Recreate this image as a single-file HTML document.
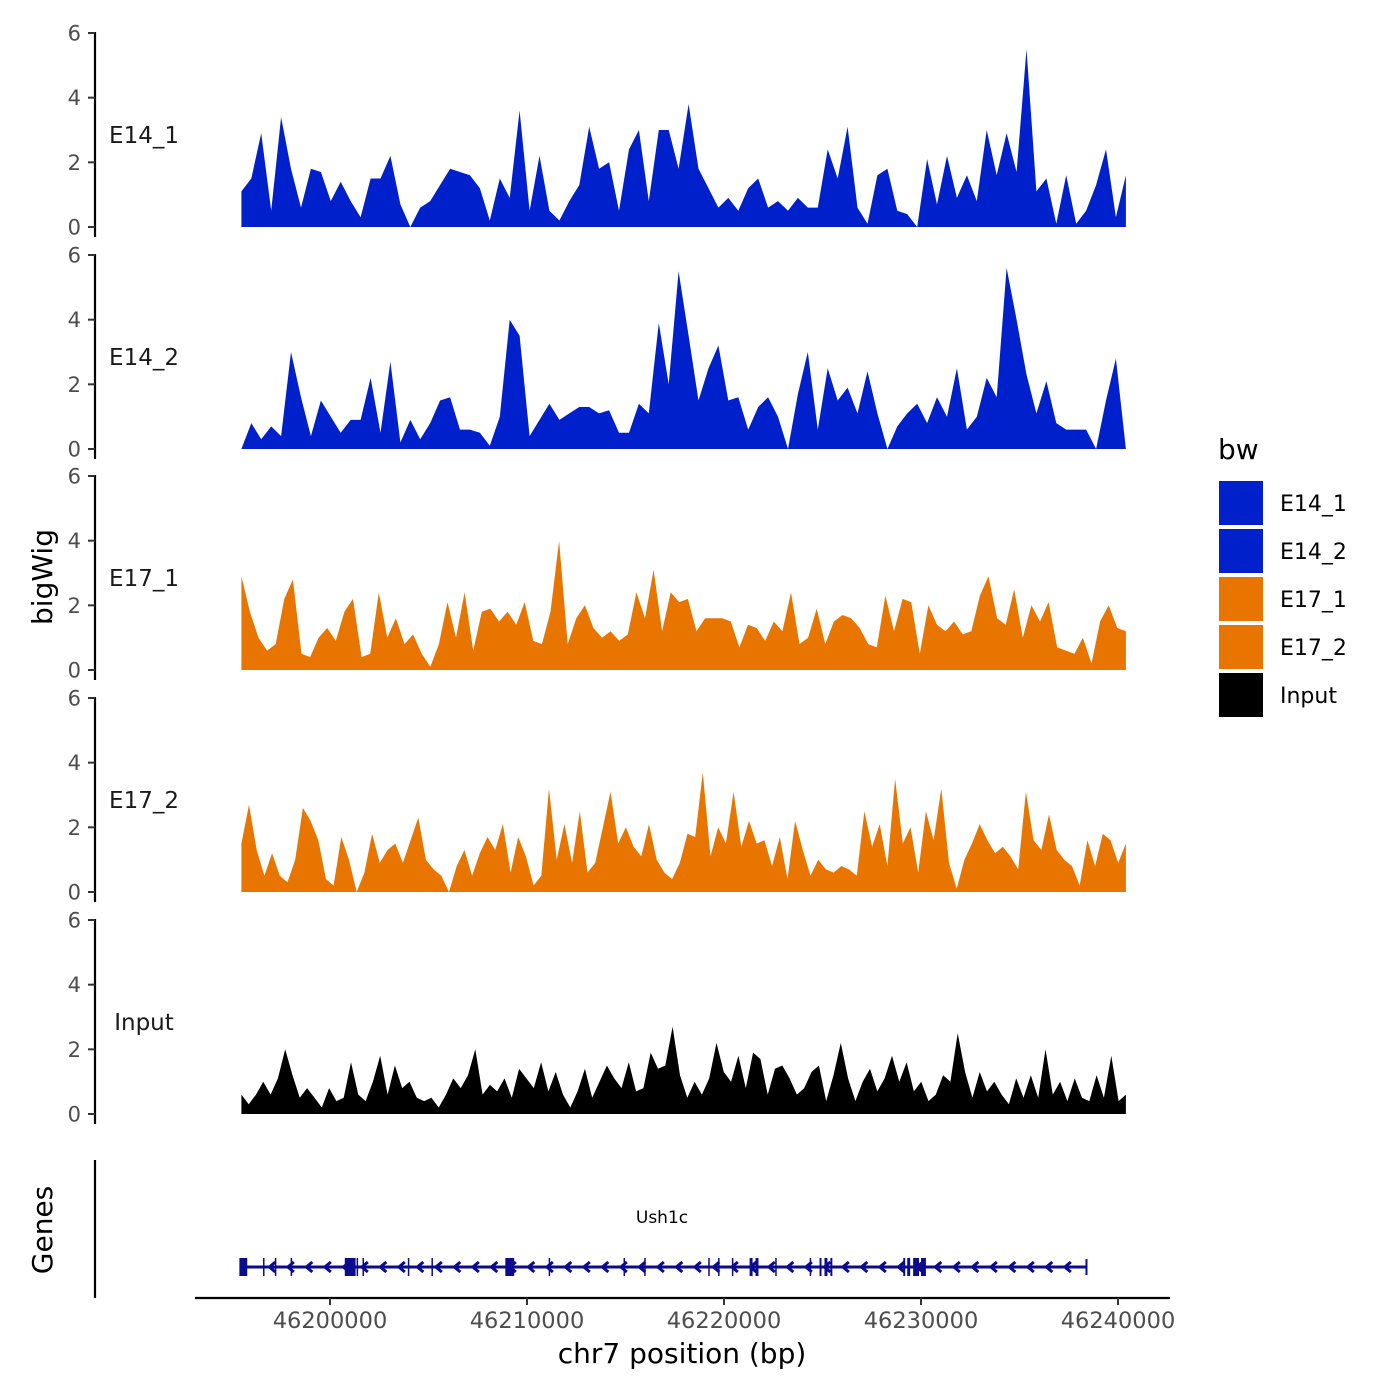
<!DOCTYPE html>
<html><head><meta charset="utf-8"><style>
body{margin:0;background:#fff}
svg{display:block;font-family:"DejaVu Sans","Liberation Sans",sans-serif}
</style></head><body>
<svg id="c" width="1400" height="1400" viewBox="0 0 1400 1400"></svg>
<script>
// ---- data ----
const trackNames = ["E14_1","E14_2","E17_1","E17_2","Input"];
const trackColors = ["#0020CC","#0020CC","#E87500","#E87500","#000000"];
const dataStart = 46195500, dataEnd = 46240400;
const e14_1 = [1.1,1.5,2.9,0.5,3.4,1.8,0.6,1.8,1.7,0.8,1.4,0.8,0.3,1.5,1.5,2.2,0.7,0,0.6,0.8,1.3,1.8,1.7,1.6,1.2,0.2,1.5,0.9,3.6,0.5,2.2,0.5,0.2,0.8,1.3,3.1,1.8,2.0,0.5,2.4,3.0,0.8,3.0,3.0,1.8,3.8,1.8,1.2,0.6,0.9,0.5,1.2,1.5,0.6,0.8,0.5,0.9,0.6,0.6,2.4,1.5,3.1,0.6,0.1,1.6,1.8,0.5,0.4,0,2.1,0.7,2.2,0.9,1.6,0.8,3.0,1.6,2.9,1.7,5.5,1.1,1.5,0.1,1.6,0.1,0.5,1.3,2.4,0.3,1.6];
const e14_2 = [0,0.8,0.3,0.7,0.4,3.0,1.6,0.4,1.5,1.0,0.5,0.9,0.9,2.2,0.5,2.7,0.2,0.9,0.3,0.8,1.5,1.6,0.6,0.6,0.5,0.1,1.0,4.0,3.5,0.4,0.9,1.4,0.9,1.1,1.3,1.3,1.1,1.2,0.5,0.5,1.4,1.1,3.9,2.0,5.5,3.5,1.5,2.5,3.2,1.5,1.6,0.6,1.3,1.6,1.0,0,1.7,3.0,0.6,2.5,1.5,1.9,1.1,2.4,1.1,0,0.7,1.1,1.4,0.8,1.6,1.0,2.5,0.6,1.0,2.2,1.6,5.6,4.0,2.3,1.1,2.1,0.8,0.6,0.6,0.6,0,1.5,2.8,0];
const e17_1 = [2.9,1.8,1.0,0.6,0.8,2.2,2.8,0.5,0.4,1.0,1.3,0.9,1.8,2.2,0.4,0.5,2.4,1.0,1.6,0.8,1.1,0.5,0.1,0.8,2.1,1.0,2.4,0.6,1.8,1.9,1.5,1.8,1.4,2.1,0.9,0.8,1.8,4.0,0.8,1.6,2.0,1.3,1.0,1.2,0.9,1.1,2.4,1.6,3.1,1.2,2.4,2.1,2.2,1.2,1.6,1.6,1.6,1.5,0.7,1.4,1.3,0.9,1.5,1.2,2.4,0.8,1.0,1.9,0.8,1.5,1.7,1.6,1.3,0.8,0.7,2.3,1.2,2.2,2.1,0.5,2.0,1.4,1.2,1.5,1.1,1.2,2.3,2.9,1.6,1.4,2.5,1.0,2.0,1.5,2.1,0.7,0.6,0.5,1.0,0.2,1.5,2.0,1.3,1.2];
const e17_2 = [1.5,2.7,1.3,0.5,1.2,0.5,0.3,1.0,2.6,2.2,1.6,0.4,0.2,1.7,1.0,0,0.6,1.8,0.9,1.3,1.5,0.9,1.6,2.3,1.0,0.7,0.5,0,0.8,1.3,0.5,1.2,1.7,1.3,2.1,0.6,1.7,1.1,0.2,0.5,3.2,1.0,2.1,0.9,2.5,0.6,0.9,2.0,3.1,1.5,2.0,1.4,1.1,2.1,1.0,0.6,0.4,0.9,1.8,1.7,3.7,1.1,2.0,1.5,3.1,1.4,2.2,1.5,1.6,0.8,1.7,0.4,2.2,1.3,0.5,1.0,0.7,0.6,0.8,0.7,0.5,2.5,1.4,2.1,0.8,3.5,1.5,2.0,0.6,2.5,1.6,3.2,0.9,0.1,1.0,1.5,2.1,1.6,1.2,1.4,1.1,0.7,3.1,1.6,1.3,2.4,1.3,1.0,0.8,0.2,1.6,0.8,1.8,1.6,0.9,1.5];
const inputVals = [0.6,0.3,0.6,1.0,0.6,1.1,2.0,1.2,0.5,0.8,0.5,0.2,0.8,0.4,0.5,1.6,0.6,0.4,1.0,1.8,0.6,1.5,0.8,1.0,0.5,0.4,0.5,0.2,0.6,1.1,0.8,1.2,2.0,0.6,0.9,0.7,1.1,0.5,1.4,1.1,0.8,1.6,0.7,1.3,0.6,0.2,0.7,1.4,0.5,1.0,1.5,1.1,0.8,1.6,0.7,0.8,1.9,1.4,1.5,2.7,1.2,0.5,1.0,0.6,1.1,2.2,1.3,1.0,1.8,0.8,1.9,1.7,0.6,1.4,1.5,1.1,0.6,0.8,1.3,1.5,0.4,1.2,2.2,1.1,0.4,1.0,1.4,0.7,1.1,1.8,1.0,1.6,0.7,1.0,0.4,0.6,1.2,1.0,2.5,1.3,0.5,1.3,0.7,1.0,0.6,0.3,1.1,0.5,1.2,0.5,2.0,0.6,1.0,0.4,1.1,0.5,0.4,1.2,0.5,1.8,0.4,0.6];
const trackValues = [e14_1,e14_2,e17_1,e17_2,inputVals];
const yTicks = [0,2,4,6];
const xTicks = [46200000,46210000,46220000,46230000,46240000];
const geneName = "Ush1c";
const geneStart = 46195500, geneEnd = 46238400;
const exonStarts = [46195400,46196600,46197200,46198000,46200750,46201350,46201650,46203950,46205150,46208900,46211100,46214900,46215950,46219200,46219700,46220400,46221300,46221600,46222600,46224350,46224850,46225100,46225400,46229100,46229300,46229600,46230000];
const exonEnds   = [46195800,46196650,46197250,46198080,46201300,46201400,46201700,46204000,46205200,46209350,46211150,46214950,46216000,46219250,46219750,46220450,46221450,46221750,46222650,46224400,46224950,46225250,46225500,46229200,46229450,46229900,46230250];

// ---- scales ----
const X0 = 46200000, PX0 = 330, PXPER = 788/40000;
const xs = bp => PX0 + (bp - X0)*PXPER;
const panelZero = [227,449,670,892,1114];
const ys = (v,i) => panelZero[i] - v*(194/6);

const svg = document.getElementById('c');
const NS = "http://www.w3.org/2000/svg";
function mk(tag, attrs, parent){
  const e = document.createElementNS(NS, tag);
  for (const k in attrs) e.setAttribute(k, attrs[k]);
  (parent||svg).appendChild(e);
  return e;
}

trackValues.forEach((vals,i)=>{
  const g = mk('g',{});
  
  
  const n = vals.length;
  let pts = xs(dataStart).toFixed(1)+','+ys(0,i);
  vals.forEach((v,j)=>{
    const bp = dataStart + j*(dataEnd-dataStart)/(n-1);
    pts += ' '+xs(bp).toFixed(1)+','+ys(v,i).toFixed(1);
  });
  pts += ' '+xs(dataEnd).toFixed(1)+','+ys(0,i);
  const p = mk('polygon',{points:pts,fill:trackColors[i]},g);
  
  
  const ax = mk('line',{x1:95,x2:95,y1:ys(6,i)-1,y2:ys(0,i)+10,stroke:'#000','stroke-width':2.2},g);
  
  
  yTicks.forEach(t=>{
    mk('line',{x1:88,x2:95,y1:ys(t,i),y2:ys(t,i),stroke:'#333','stroke-width':2},g);
    const tx = mk('text',{x:81,y:ys(t,i)+7.5,'text-anchor':'end','font-size':21,fill:'#4d4d4d'},g);
    tx.textContent = t;
    
    
  });
  const lb = mk('text',{x:144,y:ys(0,i)-84,'text-anchor':'middle','font-size':23,fill:'#1a1a1a'},g);
  lb.textContent = trackNames[i];
  
  
});

const yt = mk('text',{x:0,y:0,transform:'translate(52,577) rotate(-90)','text-anchor':'middle','font-size':28,fill:'#000'});
yt.textContent = 'bigWig';



const gg = mk('g',{});


mk('line',{x1:95,x2:95,y1:1160,y2:1298,stroke:'#000','stroke-width':2.2},gg);
const gt = mk('text',{x:0,y:0,transform:'translate(52,1230) rotate(-90)','text-anchor':'middle','font-size':28,fill:'#000'},gg);
gt.textContent = 'Genes';


const GY = 1267, GC = '#0B0B8E';
mk('line',{x1:xs(geneStart),x2:xs(geneEnd),y1:GY,y2:GY,stroke:GC,'stroke-width':3},gg);
mk('line',{x1:xs(geneEnd),x2:xs(geneEnd),y1:GY-8,y2:GY+8,stroke:GC,'stroke-width':2},gg);
for (let x = xs(geneStart)+30; x < xs(geneEnd)-5; x += 18.5){
  mk('polyline',{points:(x+4)+','+(GY-5)+' '+(x-2)+','+GY+' '+(x+4)+','+(GY+5),fill:'none',stroke:GC,'stroke-width':3},gg);
}
exonStarts.forEach((s,k)=>{
  const x1 = xs(s), x2 = xs(exonEnds[k]);
  const r = mk('rect',{x:x1,y:GY-9,width:Math.max(1.5,x2-x1),height:18,fill:GC},gg);
  
  
});
const gn = mk('text',{x:662,y:1223,'text-anchor':'middle','font-size':17,fill:'#000'},gg);
gn.textContent = geneName;



const xa = mk('line',{x1:195,x2:1170,y1:1298,y2:1298,stroke:'#000','stroke-width':2.2});


xTicks.forEach(t=>{
  mk('line',{x1:xs(t),x2:xs(t),y1:1298,y2:1305,stroke:'#333','stroke-width':2});
  const tx = mk('text',{x:xs(t),y:1328,'text-anchor':'middle','font-size':22.5,fill:'#4d4d4d'});
  tx.textContent = t;
  
  
});
const xt = mk('text',{x:682,y:1363,'text-anchor':'middle','font-size':28,fill:'#000'});
xt.textContent = 'chr7 position (bp)';



const lg = mk('g',{});


const lt = mk('text',{x:1218,y:459,'font-size':28,fill:'#000'},lg);
lt.textContent = 'bw';


trackNames.forEach((n,i)=>{
  const y = 481 + i*48;
  const r = mk('rect',{x:1219,y:y,width:44,height:44,fill:trackColors[i]},lg);
  
  
  const t = mk('text',{x:1280,y:y+30,'font-size':22,fill:'#000'},lg);
  t.textContent = n;
  
  
});
</script>
</body></html>
